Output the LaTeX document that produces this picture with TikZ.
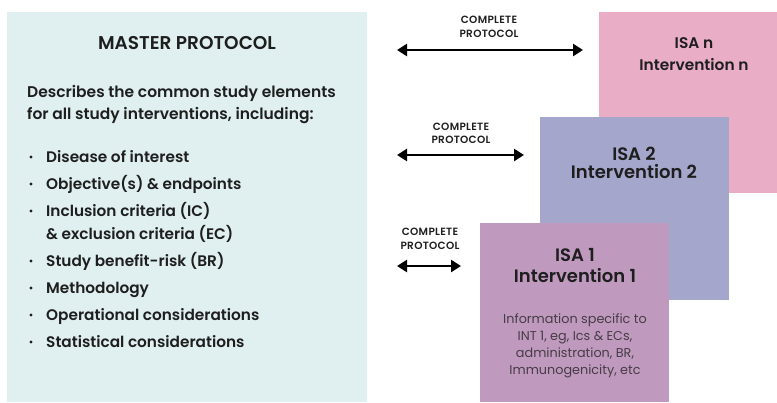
\documentclass[tikz,border=0pt]{standalone}
\usepackage{fontspec}
\setmainfont{Poppins}[BoldFont={Poppins SemiBold}]
\usetikzlibrary{arrows.meta}
\definecolor{masterbg}{RGB}{224,239,239}
\definecolor{isanbg}{RGB}{233,174,198}
\definecolor{isatwobg}{RGB}{164,166,203}
\definecolor{isaonebg}{RGB}{192,154,190}
\definecolor{txt}{RGB}{30,30,30}
\definecolor{smalltxt}{RGB}{70,60,70}
\tikzset{
  lefttxt/.style={anchor=base west,inner sep=0pt,text=txt,font=\fontsize{15.5bp}{18bp}\selectfont\bfseries},
  bul/.style={anchor=base west,inner sep=0pt,text=txt,font=\fontsize{15.3bp}{18bp}\selectfont\bfseries},
  dot/.style={circle,fill=txt,inner sep=0pt,minimum size=3.4bp},
  isatxt/.style={anchor=base,inner sep=0pt,text=txt,font=\fontsize{#1bp}{#1bp}\selectfont\bfseries},
  cplabel/.style={anchor=base,inner sep=0pt,text=txt,font=\fontsize{10.5bp}{11bp}\selectfont\bfseries\addfontfeature{LetterSpace=3}},
  smalltext/.style={anchor=base,inner sep=0pt,text=smalltxt,font=\fontsize{12.8bp}{14bp}\selectfont},
  dblarrow/.style={line width=2.6bp,draw=black,{Triangle[length=10bp,width=12bp]}-{Triangle[length=10bp,width=12bp]}}
}
\begin{document}
\begin{tikzpicture}[x=1bp,y=-1bp]
\useasboundingbox (0,0) rectangle (777,402);
% boxes
\fill[masterbg] (7,12) rectangle (367,402);
\node[inner sep=0pt] (master) at (187,207) {};
\fill[isanbg] (599,12) rectangle (777,193);
\node[inner sep=0pt] (isan) at (688,102) {};
\fill[isatwobg] (540,117) rectangle (729,300);
\node[inner sep=0pt] (isa2) at (634,208) {};
\fill[isaonebg] (480,223) rectangle (669,402);
\node[inner sep=0pt] (isa1) at (574,312) {};

% master text
\node[isatxt=18.5] (mtitle) at (187,49) {MASTER PROTOCOL};
\node[lefttxt] (d1) at (27,97) {Describes the common study elements};
\node[lefttxt] (d2) at (27,119) {for all study interventions, including:};
\foreach \y/\t [count=\i] in {162/{Disease of interest},189/{Objective(s) \& endpoints},216/{Inclusion criteria (IC)},266/{Study benefit-risk (BR)},293/{Methodology},320/{Operational considerations},347/{Statistical considerations}}{
  \node[dot] (b\i) at (31,\y-5) {};
  \node[bul] (l\i) at (46,\y) {\t};
}
\node[bul] (l3b) at (46,239) {\& exclusion criteria (EC)};

% ISA texts
\node[isatxt=15.4] (isanA) at (694,48) {ISA n};
\node[isatxt=15.4] (isanB) at (694,70) {Intervention n};
\node[isatxt=18] (isa2A) at (634,160) {ISA 2};
\node[isatxt=18] (isa2B) at (634,178) {Intervention 2};
\node[isatxt=18] (isa1A) at (575,261) {ISA 1};
\node[isatxt=18] (isa1B) at (575,282) {Intervention 1};
\node[smalltext] (s1) at (575,323) {Information specific to};
\node[smalltext] (s2) at (575,340) {INT 1, eg, Ics \& ECs,};
\node[smalltext] (s3) at (575,357) {administration, BR,};
\node[smalltext] (s4) at (575,374) {Immunogenicity, etc};

% complete protocol labels
\node[cplabel] (c1a) at (489,23) {COMPLETE};
\node[cplabel] (c1b) at (489,37) {PROTOCOL};
\node[cplabel] (c2a) at (461,130) {COMPLETE};
\node[cplabel] (c2b) at (461,143) {PROTOCOL};
\node[cplabel] (c3a) at (430,235) {COMPLETE};
\node[cplabel] (c3b) at (430,249) {PROTOCOL};

% arrows
\coordinate (a1l) at (397,50);
\coordinate (a1r) at (583,50);
\coordinate (a2l) at (397,155);
\coordinate (a2r) at (524,155);
\coordinate (a3l) at (397,266);
\coordinate (a3r) at (461,266);
\draw[dblarrow] (a1l) -- (a1r);
\draw[dblarrow] (a2l) -- (a2r);
\draw[dblarrow] (a3l) -- (a3r);
\end{tikzpicture}
\end{document}
